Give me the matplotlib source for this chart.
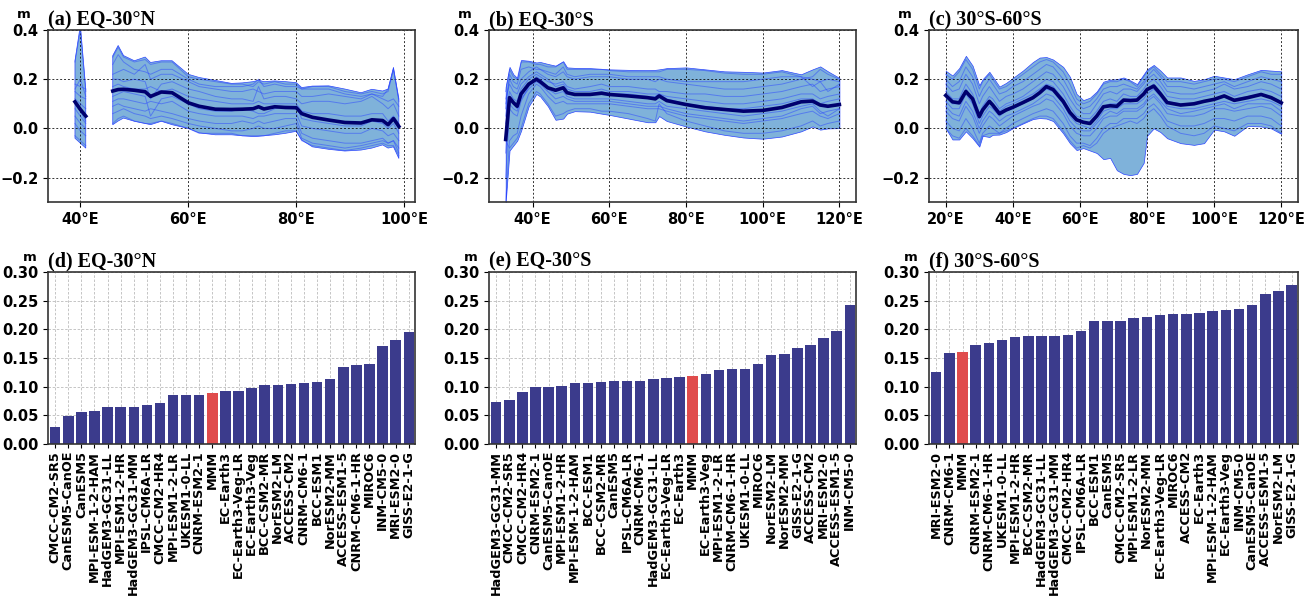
import numpy as np
import matplotlib
matplotlib.use("Agg")
import matplotlib.pyplot as plt
from matplotlib.ticker import FuncFormatter, MultipleLocator

plt.rcParams['font.family'] = ['DejaVu Sans']
plt.rcParams['font.weight'] = 'bold'

nan = np.nan

# ---- (a) EQ-30N : longitude, ensemble range, multi-model mean, member curves
lon_a = [39, 40, 41, 43, 46, 47, 48, 50, 52, 53, 55, 57, 60, 62, 65, 68, 70, 72, 73, 74, 76, 78,
         80, 81, 83, 86, 89, 92, 94, 96, 97, 98, 99]
mmm_a = [0.108, 0.077, 0.05, nan, 0.152, 0.158, 0.159, 0.155, 0.149, 0.13, 0.148, 0.145, 0.104, 0.090,
         0.078, 0.077, 0.078, 0.08, 0.088, 0.079, 0.088, 0.085, 0.084, 0.06, 0.045, 0.034, 0.024, 0.022,
         0.035, 0.032, 0.015, 0.04, 0.008]
hi_a = [0.275, 0.42, 0.16, nan, 0.296, 0.337, 0.296, 0.275, 0.29, 0.268, 0.275, 0.275, 0.22, 0.207,
        0.195, 0.183, 0.185, 0.19, 0.196, 0.19, 0.193, 0.19, 0.186, 0.166, 0.172, 0.173, 0.16, 0.145,
        0.159, 0.152, 0.16, 0.248, 0.118]
lo_a = [-0.04, -0.06, -0.08, nan, 0.015, 0.03, 0.042, 0.029, 0.02, 0.015, 0.029, 0.015, 0.0, -0.018,
        -0.026, -0.026, -0.03, -0.033, -0.032, -0.03, -0.026, -0.02, -0.012, -0.047, -0.075, -0.085,
        -0.092, -0.088, -0.08, -0.067, -0.08, -0.075, -0.122]
models_a = [
    [0.27, 0.40, 0.15, nan, 0.29, 0.33, 0.29, 0.27, 0.28, 0.26, 0.27, 0.27, 0.21, 0.20, 0.19, 0.18, 0.18,
     0.17, 0.19, 0.18, 0.19, 0.18, 0.18, 0.16, 0.17, 0.17, 0.15, 0.14, 0.15, 0.14, 0.15, 0.24, 0.11],
    [0.18, 0.17, 0.16, nan, 0.22, 0.23, 0.24, 0.22, 0.26, 0.20, 0.22, 0.22, 0.19, 0.17, 0.16, 0.15, 0.15,
     0.16, 0.15, 0.14, 0.15, 0.15, 0.15, 0.13, 0.13, 0.14, 0.13, 0.12, 0.14, 0.12, 0.11, 0.12, 0.09],
    [0.15, 0.13, 0.12, nan, 0.20, 0.20, 0.19, 0.20, 0.19, 0.12, 0.18, 0.19, 0.16, 0.15, 0.13, 0.12, 0.12,
     0.11, 0.17, 0.12, 0.13, 0.13, 0.12, 0.10, 0.11, 0.11, 0.10, 0.11, 0.13, 0.10, 0.08, 0.10, 0.05],
    [0.12, 0.10, 0.08, nan, 0.17, 0.18, 0.17, 0.16, 0.16, 0.17, 0.15, 0.16, 0.13, 0.12, 0.11, 0.10, 0.10,
     0.10, 0.11, 0.10, 0.10, 0.10, 0.10, 0.07, 0.06, 0.06, 0.05, 0.05, 0.06, 0.06, 0.03, 0.05, 0.02],
    [0.10, 0.07, 0.03, nan, 0.13, 0.14, 0.15, 0.14, 0.13, 0.05, 0.12, 0.13, 0.10, 0.08, 0.07, 0.07, 0.08,
     0.07, 0.06, 0.06, 0.08, 0.09, 0.09, 0.04, 0.03, 0.02, 0.01, 0.01, 0.03, 0.02, 0.00, 0.02, -0.02],
    [0.08, 0.05, 0.02, nan, 0.11, 0.12, 0.12, 0.11, 0.10, 0.11, 0.10, 0.11, 0.07, 0.06, 0.05, 0.05, 0.05,
     0.04, 0.05, 0.05, 0.06, 0.06, 0.06, 0.01, 0.00, -0.01, -0.02, -0.02, 0.00, -0.01, -0.03, -0.02, -0.05],
    [0.05, 0.02, 0.00, nan, 0.09, 0.10, 0.09, 0.08, 0.07, 0.08, 0.07, 0.06, 0.04, 0.03, 0.02, 0.02, 0.03,
     0.02, 0.03, 0.02, 0.03, 0.04, 0.04, -0.02, -0.04, -0.05, -0.06, -0.06, -0.05, -0.04, -0.06, -0.05, -0.08],
    [-0.03, -0.05, -0.07, nan, 0.02, 0.04, 0.05, 0.03, 0.02, 0.02, 0.03, 0.02, 0.00, -0.02, -0.02, -0.02,
     -0.03, -0.03, -0.03, -0.03, -0.02, -0.01, -0.01, -0.05, -0.07, -0.08, -0.09, -0.08, -0.07, -0.06,
     -0.07, -0.07, -0.11],
    [0.16, 0.20, 0.13, nan, 0.26, 0.30, 0.27, 0.24, 0.23, 0.22, 0.24, 0.24, 0.20, 0.18, 0.17, 0.17, 0.17,
     0.18, 0.20, 0.17, 0.18, 0.17, 0.17, 0.16, 0.16, 0.16, 0.14, 0.13, 0.14, 0.13, 0.16, 0.24, 0.12],
    [0.02, -0.01, -0.03, nan, 0.06, 0.07, 0.08, 0.06, 0.05, 0.04, 0.05, 0.04, 0.02, 0.01, 0.00, -0.01,
     -0.01, 0.00, 0.01, 0.00, 0.00, 0.01, 0.02, -0.04, -0.06, -0.07, -0.08, -0.07, -0.06, -0.05, -0.06,
     -0.05, -0.10],
]

# ---- (b) EQ-30S
lon_b = [33, 34, 35, 36, 37, 39, 41, 42, 44, 46, 48, 49, 51, 55, 58, 60, 65, 70, 72, 73, 75, 80, 85,
         90, 95, 100, 105, 110, 113, 115, 117, 120]
mmm_b = [-0.045, 0.125, 0.105, 0.09, 0.14, 0.18, 0.2, 0.19, 0.165, 0.155, 0.165, 0.145, 0.138, 0.138,
         0.143, 0.138, 0.132, 0.125, 0.12, 0.132, 0.113, 0.097, 0.084, 0.077, 0.07, 0.073, 0.085, 0.108,
         0.111, 0.095, 0.09, 0.097]
hi_b = [0.17, 0.25, 0.22, 0.205, 0.278, 0.275, 0.268, 0.27, 0.262, 0.255, 0.273, 0.248, 0.246, 0.245,
        0.242, 0.24, 0.238, 0.237, 0.238, 0.24, 0.245, 0.248, 0.24, 0.232, 0.23, 0.227, 0.237, 0.22,
        0.24, 0.252, 0.232, 0.205]
lo_b = [-0.30, -0.09, -0.07, -0.05, -0.01, 0.09, 0.14, 0.13, 0.09, 0.035, 0.04, 0.06, 0.07, 0.068,
        0.06, 0.055, 0.04, 0.025, 0.025, 0.05, 0.03, 0.008, -0.012, -0.026, -0.037, -0.042, -0.033,
        -0.012, 0.008, -0.005, 0.0, 0.001]
models_b = [
    [0.15, 0.24, 0.21, 0.20, 0.27, 0.27, 0.26, 0.26, 0.25, 0.25, 0.27, 0.24, 0.24, 0.24, 0.24, 0.235,
     0.23, 0.23, 0.23, 0.23, 0.24, 0.24, 0.235, 0.225, 0.22, 0.22, 0.23, 0.21, 0.20, 0.19, 0.20, 0.19],
    [0.10, 0.20, 0.17, 0.16, 0.20, 0.23, 0.25, 0.24, 0.22, 0.21, 0.23, 0.21, 0.20, 0.21, 0.21, 0.21,
     0.20, 0.20, 0.19, 0.20, 0.19, 0.18, 0.17, 0.16, 0.16, 0.17, 0.18, 0.20, 0.21, 0.24, 0.22, 0.20],
    [0.05, 0.15, 0.12, 0.11, 0.16, 0.20, 0.22, 0.21, 0.19, 0.18, 0.19, 0.17, 0.16, 0.17, 0.18, 0.17,
     0.17, 0.16, 0.16, 0.15, 0.15, 0.14, 0.14, 0.13, 0.13, 0.14, 0.15, 0.17, 0.18, 0.15, 0.16, 0.17],
    [-0.10, 0.12, 0.10, 0.08, 0.13, 0.18, 0.21, 0.20, 0.17, 0.15, 0.17, 0.15, 0.14, 0.14, 0.15, 0.14,
     0.14, 0.13, 0.13, 0.14, 0.12, 0.10, 0.09, 0.08, 0.08, 0.09, 0.10, 0.12, 0.12, 0.10, 0.11, 0.12],
    [-0.20, 0.08, 0.06, 0.05, 0.11, 0.17, 0.20, 0.19, 0.16, 0.14, 0.15, 0.13, 0.12, 0.12, 0.12, 0.12,
     0.11, 0.10, 0.10, 0.11, 0.09, 0.08, 0.07, 0.06, 0.05, 0.06, 0.07, 0.09, 0.10, 0.07, 0.05, 0.08],
    [-0.30, -0.05, -0.03, -0.02, 0.05, 0.14, 0.18, 0.17, 0.13, 0.10, 0.11, 0.10, 0.10, 0.10, 0.10, 0.10,
     0.09, 0.08, 0.08, 0.08, 0.07, 0.05, 0.04, 0.03, 0.02, 0.03, 0.04, 0.06, 0.07, 0.05, 0.04, 0.06],
    [-0.05, -0.08, -0.06, -0.04, 0.00, 0.10, 0.15, 0.14, 0.10, 0.05, 0.06, 0.07, 0.08, 0.08, 0.07, 0.07,
     0.06, 0.04, 0.03, 0.10, 0.06, 0.03, 0.01, -0.01, -0.02, -0.02, -0.01, 0.01, 0.03, 0.01, 0.02, 0.03],
    [0.12, 0.18, 0.15, 0.14, 0.18, 0.21, 0.23, 0.22, 0.20, 0.17, 0.18, 0.16, 0.15, 0.15, 0.16, 0.15,
     0.15, 0.14, 0.14, 0.14, 0.13, 0.12, 0.11, 0.10, 0.10, 0.11, 0.12, 0.14, 0.14, 0.12, 0.13, 0.14],
    [0.02, 0.10, 0.08, 0.07, 0.12, 0.16, 0.19, 0.18, 0.15, 0.12, 0.13, 0.12, 0.11, 0.11, 0.11, 0.11,
     0.10, 0.09, 0.09, 0.09, 0.08, 0.06, 0.05, 0.04, 0.03, 0.04, 0.05, 0.08, 0.09, 0.06, 0.07, 0.08],
    [0.08, 0.22, 0.19, 0.18, 0.24, 0.25, 0.24, 0.24, 0.23, 0.22, 0.25, 0.22, 0.21, 0.22, 0.22, 0.22,
     0.21, 0.21, 0.21, 0.21, 0.20, 0.19, 0.19, 0.19, 0.19, 0.20, 0.21, 0.21, 0.17, 0.19, 0.15, 0.18],
]

# ---- (c) 30S-60S
lon_c = [20, 22, 24, 26, 28, 30, 31, 33, 34, 36, 38, 40, 43, 46, 48, 50, 52, 55, 57, 59, 61, 63, 65,
         67, 69, 71, 73, 75, 77, 79, 80, 82, 84, 86, 90, 94, 97, 100, 103, 106, 110, 114, 117, 120]
mmm_c = [0.134, 0.108, 0.104, 0.15, 0.12, 0.048, 0.075, 0.11, 0.095, 0.06, 0.075, 0.086, 0.105, 0.125,
         0.145, 0.17, 0.158, 0.11, 0.065, 0.035, 0.025, 0.02, 0.05, 0.088, 0.092, 0.09, 0.115, 0.113,
         0.115, 0.14, 0.158, 0.172, 0.14, 0.105, 0.095, 0.1, 0.11, 0.118, 0.132, 0.114, 0.125, 0.138,
         0.125, 0.104]
hi_c = [0.234, 0.215, 0.245, 0.295, 0.255, 0.175, 0.2, 0.23, 0.21, 0.17, 0.185, 0.205, 0.235, 0.27,
        0.288, 0.29, 0.28, 0.25, 0.21, 0.14, 0.115, 0.125, 0.15, 0.19, 0.198, 0.2, 0.207, 0.195, 0.18,
        0.22, 0.24, 0.258, 0.235, 0.207, 0.207, 0.193, 0.2, 0.214, 0.207, 0.2, 0.22, 0.238, 0.235, 0.232]
lo_c = [0.0, -0.045, -0.045, -0.012, -0.04, -0.074, -0.03, -0.035, -0.026, -0.025, -0.015, 0.001, 0.02,
        0.038, 0.042, 0.04, 0.03, -0.02, -0.06, -0.088, -0.08, -0.09, -0.1, -0.125, -0.12, -0.17, -0.185,
        -0.19, -0.185, -0.14, -0.03, 0.0, -0.015, -0.04, -0.06, -0.067, -0.06, -0.005, -0.012, -0.03,
        0.01, 0.008, 0.0, -0.022]
models_c = [
    [0.22, 0.20, 0.23, 0.28, 0.24, 0.16, 0.19, 0.22, 0.20, 0.16, 0.17, 0.19, 0.22, 0.25, 0.27, 0.28, 0.27,
     0.23, 0.18, 0.12, 0.10, 0.11, 0.14, 0.18, 0.19, 0.19, 0.20, 0.19, 0.17, 0.21, 0.23, 0.25, 0.22, 0.19,
     0.19, 0.18, 0.19, 0.20, 0.20, 0.19, 0.21, 0.23, 0.22, 0.22],
    [0.18, 0.15, 0.16, 0.22, 0.18, 0.10, 0.13, 0.17, 0.15, 0.11, 0.13, 0.14, 0.16, 0.19, 0.21, 0.23, 0.22,
     0.17, 0.12, 0.08, 0.06, 0.06, 0.10, 0.14, 0.15, 0.14, 0.16, 0.16, 0.15, 0.18, 0.20, 0.22, 0.19, 0.15,
     0.14, 0.14, 0.15, 0.16, 0.18, 0.16, 0.17, 0.19, 0.18, 0.16],
    [0.15, 0.12, 0.12, 0.18, 0.14, 0.06, 0.09, 0.13, 0.12, 0.08, 0.10, 0.11, 0.13, 0.16, 0.18, 0.20, 0.19,
     0.14, 0.09, 0.05, 0.04, 0.04, 0.07, 0.11, 0.12, 0.11, 0.14, 0.13, 0.13, 0.16, 0.18, 0.20, 0.17, 0.13,
     0.12, 0.12, 0.13, 0.14, 0.15, 0.13, 0.15, 0.16, 0.15, 0.13],
    [0.11, 0.08, 0.08, 0.14, 0.10, 0.02, 0.05, 0.09, 0.08, 0.05, 0.07, 0.08, 0.10, 0.12, 0.14, 0.16, 0.15,
     0.10, 0.05, 0.02, 0.01, 0.00, 0.03, 0.07, 0.08, 0.08, 0.10, 0.10, 0.10, 0.12, 0.14, 0.16, 0.13, 0.09,
     0.08, 0.08, 0.09, 0.10, 0.11, 0.10, 0.11, 0.12, 0.11, 0.09],
    [0.07, 0.04, 0.03, 0.09, 0.05, -0.02, 0.01, 0.05, 0.04, 0.01, 0.03, 0.05, 0.07, 0.09, 0.10, 0.12, 0.11,
     0.06, 0.01, -0.02, -0.03, -0.03, 0.00, 0.04, 0.05, 0.05, 0.07, 0.07, 0.07, 0.09, 0.11, 0.13, 0.10,
     0.06, 0.05, 0.05, 0.06, 0.08, 0.08, 0.07, 0.08, 0.09, 0.08, 0.05],
    [0.03, 0.00, -0.01, 0.04, 0.00, -0.06, -0.02, 0.01, 0.00, -0.02, 0.00, 0.02, 0.04, 0.06, 0.07, 0.08,
     0.07, 0.02, -0.03, -0.06, -0.06, -0.07, -0.04, 0.00, 0.02, 0.02, 0.04, 0.04, 0.04, 0.06, 0.08, 0.10,
     0.07, 0.03, 0.01, 0.01, 0.02, 0.04, 0.04, 0.03, 0.05, 0.05, 0.04, 0.01],
    [0.00, -0.03, -0.04, 0.00, -0.03, -0.07, -0.03, -0.02, -0.02, -0.02, -0.01, 0.00, 0.02, 0.04, 0.05,
     0.05, 0.04, -0.01, -0.05, -0.08, -0.07, -0.08, -0.06, -0.02, 0.00, 0.01, 0.02, 0.03, 0.02, 0.04,
     0.06, 0.08, 0.05, 0.01, -0.02, -0.03, -0.02, 0.01, 0.00, -0.01, 0.02, 0.02, 0.01, -0.02],
    [0.13, 0.10, 0.10, 0.16, 0.12, 0.04, 0.07, 0.11, 0.10, 0.07, 0.09, 0.10, 0.12, 0.14, 0.16, 0.18, 0.17,
     0.12, 0.07, 0.04, 0.02, 0.02, 0.05, 0.09, 0.10, 0.10, 0.12, 0.12, 0.12, 0.14, 0.16, 0.18, 0.15, 0.11,
     0.10, 0.10, 0.11, 0.12, 0.13, 0.12, 0.13, 0.14, 0.13, 0.11],
    [0.09, 0.06, 0.05, 0.11, 0.07, 0.00, 0.03, 0.07, 0.06, 0.03, 0.05, 0.06, 0.08, 0.10, 0.12, 0.14, 0.13,
     0.08, 0.03, 0.00, -0.01, -0.01, 0.02, 0.05, 0.07, 0.06, 0.08, 0.08, 0.08, 0.10, 0.12, 0.14, 0.11,
     0.08, 0.06, 0.07, 0.08, 0.09, 0.10, 0.08, 0.10, 0.10, 0.10, 0.07],
    [0.20, 0.17, 0.19, 0.25, 0.21, 0.13, 0.16, 0.20, 0.18, 0.14, 0.15, 0.17, 0.19, 0.22, 0.24, 0.26, 0.25,
     0.20, 0.15, 0.10, 0.08, 0.09, 0.12, 0.16, 0.17, 0.17, 0.18, 0.17, 0.16, 0.19, 0.21, 0.24, 0.21, 0.17,
     0.17, 0.16, 0.17, 0.18, 0.19, 0.17, 0.19, 0.21, 0.20, 0.19],
]

# ---- bar charts (sorted per region)
names_d = ['CMCC-CM2-SR5', 'CanESM5-CanOE', 'CanESM5', 'MPI-ESM-1-2-HAM', 'HadGEM3-GC31-LL',
           'MPI-ESM1-2-HR', 'HadGEM3-GC31-MM', 'IPSL-CM6A-LR', 'CMCC-CM2-HR4', 'MPI-ESM1-2-LR',
           'UKESM1-0-LL', 'CNRM-ESM2-1', 'MMM', 'EC-Earth3', 'EC-Earth3-Veg-LR', 'EC-Earth3-Veg',
           'BCC-CSM2-MR', 'NorESM2-LM', 'ACCESS-CM2', 'CNRM-CM6-1', 'BCC-ESM1', 'NorESM2-MM',
           'ACCESS-ESM1-5', 'CNRM-CM6-1-HR', 'MIROC6', 'INM-CM5-0', 'MRI-ESM2-0', 'GISS-E2-1-G']
vals_d = [0.030, 0.048, 0.056, 0.058, 0.064, 0.065, 0.065, 0.068, 0.072, 0.086, 0.086, 0.086, 0.089,
          0.092, 0.093, 0.098, 0.103, 0.103, 0.104, 0.106, 0.108, 0.113, 0.135, 0.138, 0.139, 0.170,
          0.182, 0.195]

names_e = ['HadGEM3-GC31-MM', 'CMCC-CM2-SR5', 'CMCC-CM2-HR4', 'CNRM-ESM2-1', 'CanESM5-CanOE',
           'MPI-ESM1-2-HR', 'MPI-ESM-1-2-HAM', 'BCC-ESM1', 'BCC-CSM2-MR', 'CanESM5', 'IPSL-CM6A-LR',
           'CNRM-CM6-1', 'HadGEM3-GC31-LL', 'EC-Earth3-Veg-LR', 'EC-Earth3', 'MMM', 'EC-Earth3-Veg',
           'MPI-ESM1-2-LR', 'CNRM-CM6-1-HR', 'UKESM1-0-LL', 'MIROC6', 'NorESM2-LM', 'NorESM2-MM',
           'GISS-E2-1-G', 'ACCESS-CM2', 'MRI-ESM2-0', 'ACCESS-ESM1-5', 'INM-CM5-0']
vals_e = [0.0735, 0.0775, 0.090, 0.0995, 0.100, 0.101, 0.106, 0.107, 0.108, 0.109, 0.1105, 0.1105,
          0.114, 0.115, 0.116, 0.119, 0.122, 0.129, 0.130, 0.131, 0.140, 0.155, 0.156, 0.168, 0.172,
          0.185, 0.196, 0.2415]

names_f = ['MRI-ESM2-0', 'CNRM-CM6-1', 'MMM', 'CNRM-ESM2-1', 'CNRM-CM6-1-HR', 'UKESM1-0-LL',
           'MPI-ESM1-2-HR', 'BCC-CSM2-MR', 'HadGEM3-GC31-LL', 'HadGEM3-GC31-MM', 'CMCC-CM2-HR4',
           'IPSL-CM6A-LR', 'BCC-ESM1', 'CanESM5', 'CMCC-CM2-SR5', 'MPI-ESM1-2-LR', 'NorESM2-MM',
           'EC-Earth3-Veg-LR', 'MIROC6', 'ACCESS-CM2', 'EC-Earth3', 'MPI-ESM-1-2-HAM', 'EC-Earth3-Veg',
           'INM-CM5-0', 'CanESM5-CanOE', 'ACCESS-ESM1-5', 'NorESM2-LM', 'GISS-E2-1-G']
vals_f = [0.126, 0.159, 0.160, 0.1725, 0.176, 0.181, 0.186, 0.188, 0.189, 0.189, 0.1905, 0.196, 0.214,
          0.214, 0.214, 0.2195, 0.222, 0.225, 0.2265, 0.2265, 0.2275, 0.232, 0.233, 0.236, 0.2415,
          0.262, 0.266, 0.277]

titles_top = ['(a) EQ-30°N', '(b) EQ-30°S', '(c) 30°S-60°S']
titles_bot = ['(d) EQ-30°N', '(e) EQ-30°S', '(f) 30°S-60°S']

fill_col = '#7fb2da'
line_col = '#2b45ff'
mean_col = '#00006e'
bar_col = '#3b3b8c'
mmm_col = '#e04c4c'

fig = plt.figure(figsize=(13.11, 6.0), dpi=100)
lefts = [0.0366, 0.373, 0.7086]
widths = [0.280, 0.280, 0.2815]

def deg_east(v, pos):
    return '%d°E' % v

def panel_title(ax, text, mx, my):
    ax.set_title(text, loc='left', fontfamily='Liberation Serif', fontweight='bold',
                 fontsize=14.5, pad=2)
    ax.text(mx, my, 'm', transform=ax.transAxes, ha='center', va='bottom',
            fontsize=9.5, fontweight='bold')

top_sets = [
    (lon_a, mmm_a, hi_a, lo_a, models_a, (34, 102)),
    (lon_b, mmm_b, hi_b, lo_b, models_b, (28.65, 124.35)),
    (lon_c, mmm_c, hi_c, lo_c, models_c, (15, 125)),
]

for i, (lon, mmm, hi, lo, models, xl) in enumerate(top_sets):
    ax = fig.add_axes([lefts[i], 0.663, widths[i], 0.287])
    lon = np.array(lon, dtype=float)
    ax.fill_between(lon, lo, hi, color=fill_col, edgecolor=line_col, linewidth=0.5, zorder=1)
    for m in models:
        ax.plot(lon, m, color=line_col, lw=0.7, alpha=0.5, zorder=2)
    ax.plot(lon, mmm, color=mean_col, lw=2.6, zorder=3)
    ax.set_xlim(*xl)
    ax.set_ylim(-0.3, 0.4)
    ax.set_yticks([-0.2, 0.0, 0.2, 0.4])
    ax.xaxis.set_major_locator(MultipleLocator(20))
    ax.xaxis.set_major_formatter(FuncFormatter(deg_east))
    ax.grid(True, color='k', linestyle=(0, (2, 2)), lw=0.7, alpha=0.8)
    ax.tick_params(labelsize=10.5, length=3.5)
    for s in ax.spines.values():
        s.set_linewidth(1.2)
        s.set_color('#333333')
    panel_title(ax, titles_top[i], -0.065, 1.055)

bar_sets = [(names_d, vals_d), (names_e, vals_e), (names_f, vals_f)]
for i, (names, vals) in enumerate(bar_sets):
    ax = fig.add_axes([lefts[i], 0.26, widths[i], 0.287])
    x = np.arange(len(names))
    cols = [mmm_col if n == 'MMM' else bar_col for n in names]
    ax.bar(x, vals, width=0.8, color=cols, zorder=2)
    ax.set_xlim(-0.55, len(names) - 0.52)
    ax.set_ylim(0, 0.30)
    ax.set_yticks(np.arange(0, 0.301, 0.05))
    ax.yaxis.set_major_formatter(FuncFormatter(lambda v, p: '%.2f' % v))
    ax.set_xticks(x)
    ax.set_xticklabels(names, rotation=90, fontsize=9.3)
    ax.grid(True, color='#bbbbbb', linestyle=(0, (3, 2)), lw=0.6, zorder=0)
    ax.set_axisbelow(True)
    ax.tick_params(axis='y', labelsize=10.5, length=3.5)
    ax.tick_params(axis='x', length=3, pad=2)
    for s in ax.spines.values():
        s.set_linewidth(1.2)
        s.set_color('#333333')
    panel_title(ax, titles_bot[i], -0.05, 1.045)

fig.savefig('out.png', dpi=100)
